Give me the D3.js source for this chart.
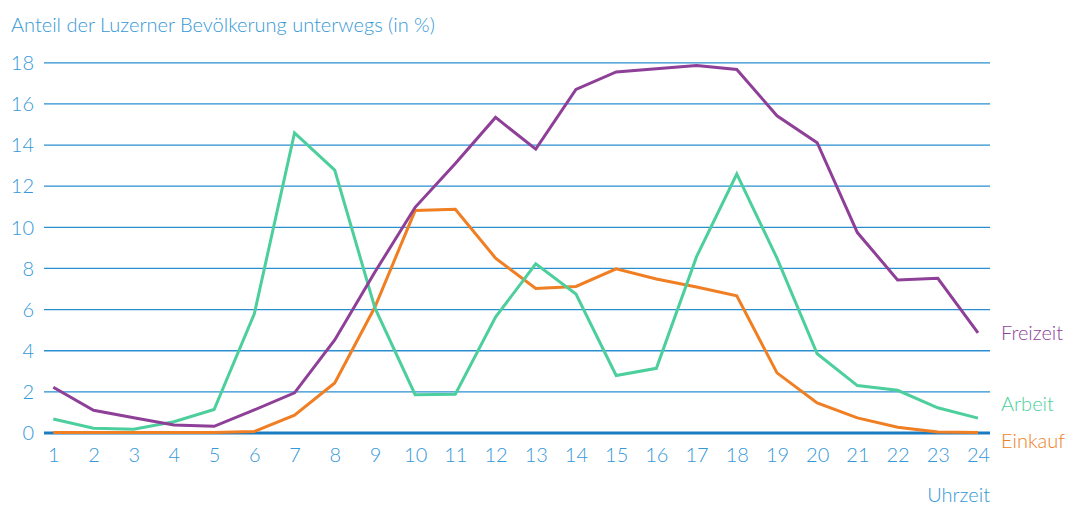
<!DOCTYPE html>
<html>
<head>
<meta charset="utf-8">
<script src="https://cdn.jsdelivr.net/npm/d3@7"></script>
<style>
  body { margin: 0; background: #fff; }
  svg text { font-family: "Lato", "Noto Sans", sans-serif; font-weight: 300; }
</style>
</head>
<body>
<script>
// Anteil unterwegs nach Stunde
var hours = d3.range(1, 25);
var yTicks = [0, 2, 4, 6, 8, 10, 12, 14, 16, 18];
var freizeit = [2.2, 1.08, 0.72, 0.37, 0.3, 1.1, 1.93, 4.5, 7.8, 10.95, 13.08, 15.32, 13.78, 16.68, 17.53, 17.69, 17.84, 17.65, 15.4, 14.09, 9.72, 7.42, 7.5, 4.84];
var arbeit = [0.66, 0.21, 0.16, 0.52, 1.12, 5.77, 14.57, 12.76, 6.06, 1.84, 1.86, 5.61, 8.2, 6.73, 2.77, 3.12, 8.55, 12.57, 8.48, 3.83, 2.28, 2.05, 1.2, 0.7];
var einkauf = [0, 0, 0, 0, 0, 0.05, 0.84, 2.41, 6.1, 10.79, 10.85, 8.48, 7.0, 7.1, 7.96, 7.46, 7.07, 6.65, 2.9, 1.44, 0.71, 0.26, 0.02, 0];

var series = [
  { name: "Freizeit", values: freizeit, color: "#8e3f97", dy: 0 },
  { name: "Arbeit", values: arbeit, color: "#4ccf9c", dy: -14 },
  { name: "Einkauf", values: einkauf, color: "#f07e22", dy: 8 }
];

var svg = d3.select("body").append("svg").attr("width", 1077).attr("height", 505);

var x = d3.scaleLinear().domain([1, 24]).range([53.3, 978]);
var y = d3.scaleLinear().domain([0, 18]).range([432.5, 62.3]);

var blue = "#3598d8";
var fs = "20px";

// titel
svg.append("text")
    .attr("x", 11).attr("y", 32)
    .attr("fill", blue)
    .style("font-size", fs)
    .text("Anteil der Luzerner Bevölkerung unterwegs (in %)");

// gitterlinien + y-achse
var yAxis = d3.axisLeft(y).tickValues(yTicks).tickSize(-(990 - 44)).tickPadding(10);
var gy = svg.append("g").attr("transform", "translate(44,0)").call(yAxis);
gy.select(".domain").remove();
gy.selectAll(".tick line").attr("stroke", "#2a8fd0").attr("stroke-width", 1.3);
gy.selectAll(".tick text").attr("fill", blue).style("font-size", fs).attr("dy", "0.36em");
gy.selectAll(".tick").filter(function(d) { return d === 0; }).select("line")
    .attr("stroke", "#1a7cc0").attr("stroke-width", 3);

// x-achse
var xAxis = d3.axisBottom(x).tickValues(hours).tickSize(0).tickPadding(15);
var gx = svg.append("g").attr("transform", "translate(0,432.5)").call(xAxis);
gx.select(".domain").remove();
gx.selectAll(".tick text").attr("fill", blue).style("font-size", fs);

svg.append("text")
    .attr("x", 990).attr("y", 502)
    .attr("text-anchor", "end")
    .attr("fill", blue)
    .style("font-size", fs)
    .text("Uhrzeit");

var line = d3.line()
    .x(function(d, i) { return x(hours[i]); })
    .y(function(d) { return y(d); });

// reihenfolge: einkauf unten, freizeit oben
[series[2], series[1], series[0]].forEach(function(s) {
  svg.append("path")
      .attr("d", line(s.values))
      .attr("fill", "none")
      .attr("stroke", s.color)
      .attr("stroke-width", 3)
      .attr("stroke-linejoin", "miter");
});

svg.selectAll(".lbl").data(series).enter().append("text")
    .attr("class", "lbl")
    .attr("x", 1001)
    .attr("y", function(d) { return y(d.values[d.values.length - 1]) + d.dy; })
    .attr("dy", "0.36em")
    .attr("fill", function(d) { return d.color; })
    .style("font-size", fs)
    .text(function(d) { return d.name; });
</script>
</body>
</html>
